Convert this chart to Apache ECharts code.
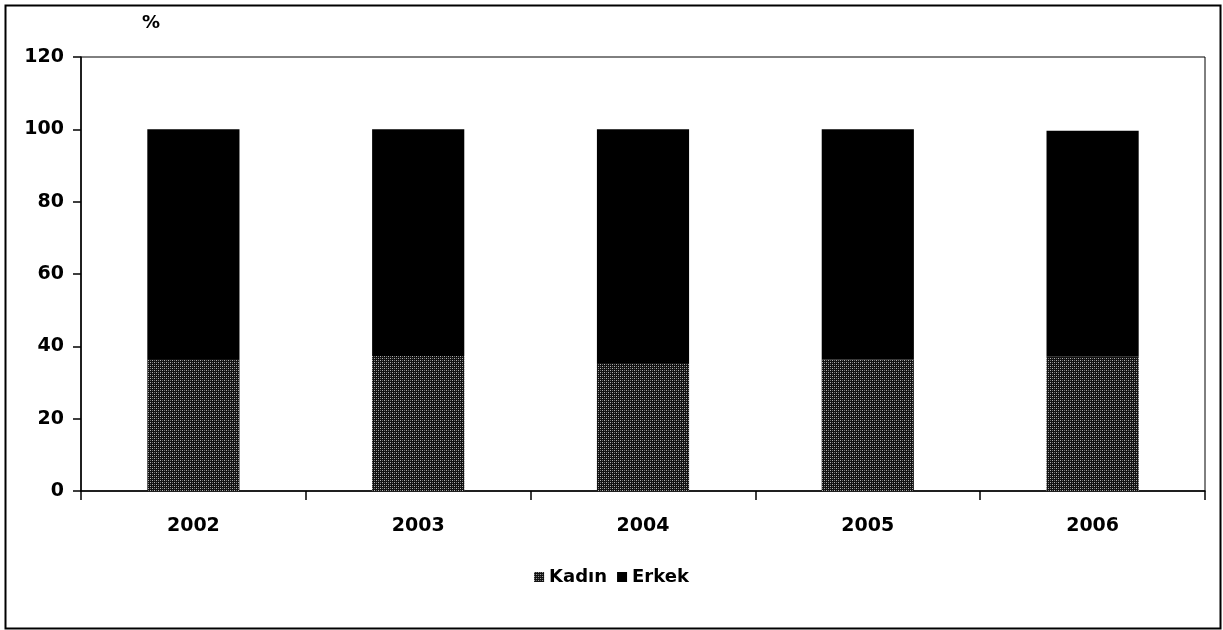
<!DOCTYPE html>
<html>
<head>
<meta charset="utf-8">
<script src="https://cdn.jsdelivr.net/npm/echarts@6/dist/echarts.min.js"></script>
<style>
  html, body { margin: 0; padding: 0; background: #fff; }
  #chart { width: 1223px; height: 630px; }
</style>
</head>
<body>
<div id="chart"></div>
<script>
// Share of women and men by year (%)
const years = ['2002', '2003', '2004', '2005', '2006'];
const kadin = [36.5, 37.3, 35.4, 36.4, 37.1];
const erkek = [63.5, 62.7, 64.6, 63.6, 62.5];
const yTicks = [0, 20, 40, 60, 80, 100, 120];

// Dotted dark fill for the "Kadın" bars
function dotPattern() {
  const c = document.createElement('canvas');
  c.width = 4; c.height = 4;
  const g = c.getContext('2d');
  g.fillStyle = '#111';
  g.fillRect(0, 0, 4, 4);
  g.fillStyle = '#b0b0b0';
  g.fillRect(0, 0, 1, 1);
  g.fillRect(2, 2, 1, 1);
  g.fillStyle = '#707070';
  g.fillRect(2, 0, 1, 1);
  g.fillRect(0, 2, 1, 1);
  return c;
}

const font = '"DejaVu Sans", Verdana, sans-serif';
const chart = echarts.init(document.getElementById('chart'), null, { renderer: 'canvas' });

chart.setOption({
  animation: false,
  backgroundColor: '#fff',
  grid: {
    left: 81, right: 18, top: 57, bottom: 139,
    show: true, borderColor: '#000', borderWidth: 1, backgroundColor: 'transparent'
  },
  graphic: [
    {
      type: 'rect', left: 3, top: 3, silent: true,
      shape: { width: 1215, height: 623 },
      style: { fill: 'none', stroke: '#000', lineWidth: 2 }
    },
    {
      type: 'text', left: 142, top: 14,
      style: { text: '%', font: 'bold 18px ' + font, fill: '#000' }
    }
  ],
  legend: {
    bottom: 39, left: 'center',
    icon: 'rect',
    itemWidth: 10, itemHeight: 10, itemGap: 10,
    textStyle: { fontFamily: font, fontWeight: 'bold', fontSize: 18, color: '#000' },
    data: ['Kadın', 'Erkek']
  },
  xAxis: {
    type: 'category',
    data: years,
    axisLine: { lineStyle: { color: '#000', width: 1.5 } },
    axisTick: { show: true, length: 9, lineStyle: { color: '#000', width: 1.5 } },
    axisLabel: { margin: 26, fontFamily: font, fontWeight: 'bold', fontSize: 19, color: '#000' },
    splitLine: { show: false }
  },
  yAxis: {
    type: 'value',
    min: yTicks[0], max: yTicks[yTicks.length - 1], interval: yTicks[1] - yTicks[0],
    axisLine: { show: true, lineStyle: { color: '#000', width: 1.5 } },
    axisTick: { show: true, length: 8, lineStyle: { color: '#000', width: 1.5 } },
    axisLabel: { margin: 17, fontFamily: font, fontWeight: 'bold', fontSize: 19, color: '#000' },
    splitLine: { show: false }
  },
  series: [
    {
      name: 'Kadın', type: 'bar', stack: 'total', barWidth: '41%',
      itemStyle: { color: { image: dotPattern(), repeat: 'repeat' } },
      data: kadin
    },
    {
      name: 'Erkek', type: 'bar', stack: 'total', barWidth: '41%',
      itemStyle: { color: '#000' },
      data: erkek
    }
  ]
});
</script>
</body>
</html>
